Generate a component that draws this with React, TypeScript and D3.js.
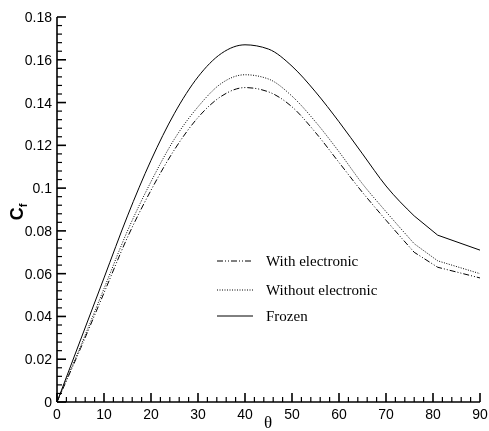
import React, { useRef, useEffect } from 'react';
import * as d3 from 'd3';

const theta = [0, 5, 10, 15, 20, 25, 30, 35, 40, 45, 50, 55, 60, 65, 70, 76, 81, 90];
const frozen = [0, 0.029, 0.058, 0.087, 0.113, 0.135, 0.152, 0.163, 0.167, 0.165, 0.157, 0.145, 0.131, 0.116, 0.101, 0.087, 0.078, 0.071];
const withoutElec = [0, 0.026, 0.053, 0.08, 0.103, 0.123, 0.138, 0.149, 0.153, 0.151, 0.143, 0.131, 0.117, 0.102, 0.089, 0.074, 0.066, 0.06];
const withElec = [0, 0.025, 0.051, 0.077, 0.099, 0.118, 0.133, 0.143, 0.147, 0.145, 0.138, 0.126, 0.112, 0.098, 0.085, 0.07, 0.063, 0.058];

const xTicks = [0, 10, 20, 30, 40, 50, 60, 70, 80, 90];
const yTicks = [0, 0.02, 0.04, 0.06, 0.08, 0.1, 0.12, 0.14, 0.16, 0.18];

const seriesNames = ['With electronic', 'Without electronic', 'Frozen'];
const seriesValues = [withElec, withoutElec, frozen];
const dashes = ['6,2,1,2,1,2', '1,1.5', null];

const W = 489;
const H = 431;
// index where the smooth part ends and the straight tail starts
const KNEE = 15;

const Chart = () => {
  const svgRef = useRef<SVGSVGElement>(null);

  useEffect(() => {
    const x = d3.scaleLinear().domain([0, 90]).range([57, 480]);
    const y = d3.scaleLinear().domain([0, 0.18]).range([402, 17]);

    const svg = d3.select(svgRef.current).html('');
    const sans = 'Helvetica, Arial, "Liberation Sans", sans-serif';
    const serif = '"Times New Roman", "Liberation Serif", serif';

    // ticks (inward)
    const g = svg.append('g').attr('stroke', '#000');
    d3.range(0, 90.01, 2).forEach(v => {
      const major = v % 10 === 0;
      g.append('line')
        .attr('stroke-width', major ? 1.6 : 1.2)
        .attr('x1', x(v)).attr('x2', x(v))
        .attr('y1', y(0)).attr('y2', y(0) - (major ? 9 : 5));
    });
    d3.range(0, 0.1801, 0.004).forEach(v => {
      const major = Math.abs(v / 0.02 - Math.round(v / 0.02)) < 1e-6;
      g.append('line')
        .attr('stroke-width', major ? 1.6 : 1.2)
        .attr('x1', x(0)).attr('x2', x(0) + (major ? 9 : 5))
        .attr('y1', y(v)).attr('y2', y(v));
    });

    // axes lines
    svg.append('line').attr('x1', x(0)).attr('x2', x(90)).attr('y1', y(0)).attr('y2', y(0))
      .attr('stroke', '#000').attr('stroke-width', 1.6);
    svg.append('line').attr('x1', x(0)).attr('x2', x(0)).attr('y1', y(0)).attr('y2', y(0.18))
      .attr('stroke', '#000').attr('stroke-width', 1.6);

    // tick labels
    svg.selectAll('.xl').data(xTicks).enter().append('text')
      .attr('x', d => x(d)).attr('y', y(0) + 17)
      .attr('text-anchor', 'middle')
      .attr('font-family', sans).attr('font-size', 14)
      .text(d => String(d));
    svg.selectAll('.yl').data(yTicks).enter().append('text')
      .attr('x', x(0) - 5).attr('y', d => y(d) + 5)
      .attr('text-anchor', 'end')
      .attr('font-family', sans).attr('font-size', 14)
      .text(d => String(d));

    // axis titles
    svg.append('text').attr('x', 268).attr('y', 428)
      .attr('text-anchor', 'middle').attr('font-family', serif).attr('font-size', 17)
      .text('θ');
    const cf = svg.append('text')
      .attr('transform', 'translate(23,212) rotate(-90)')
      .attr('text-anchor', 'middle').attr('font-family', sans).attr('font-size', 18)
      .attr('font-weight', 'bold');
    cf.append('tspan').text('C');
    cf.append('tspan').attr('font-size', 11).attr('dy', 4).text('f');

    // curves: smooth up to the knee, straight segments after it
    const smooth = d3.line<[number, number]>()
      .x(d => x(d[0])).y(d => y(d[1]))
      .curve(d3.curveMonotoneX);
    const straight = d3.line<[number, number]>()
      .x(d => x(d[0])).y(d => y(d[1]));
    seriesValues.forEach((vals, i) => {
      const pts = vals.map((v, j) => [theta[j], v] as [number, number]);
      const d = (smooth(pts.slice(0, KNEE + 1)) || '') +
        (straight(pts.slice(KNEE)) || '').replace(/^M/, 'L');
      const p = svg.append('path').attr('d', d)
        .attr('fill', 'none').attr('stroke', '#000').attr('stroke-width', 1);
      if (dashes[i]) p.attr('stroke-dasharray', dashes[i]);
    });

    // legend
    seriesNames.forEach((name, i) => {
      const ly = [261, 290, 316][i];
      const l = svg.append('line').attr('x1', 217).attr('x2', 253).attr('y1', ly).attr('y2', ly)
        .attr('stroke', '#000').attr('stroke-width', 1);
      if (dashes[i]) l.attr('stroke-dasharray', dashes[i]);
      svg.append('text').attr('x', 266).attr('y', ly + 5)
        .attr('font-family', serif).attr('font-size', 15).text(name);
    });
  }, []);

  return (
    <svg ref={svgRef} width={W} height={H}
      style={{ display: 'block', position: 'fixed', left: 0, top: 0 }} />
  );
};

export default function App() {
  return <Chart />;
}
